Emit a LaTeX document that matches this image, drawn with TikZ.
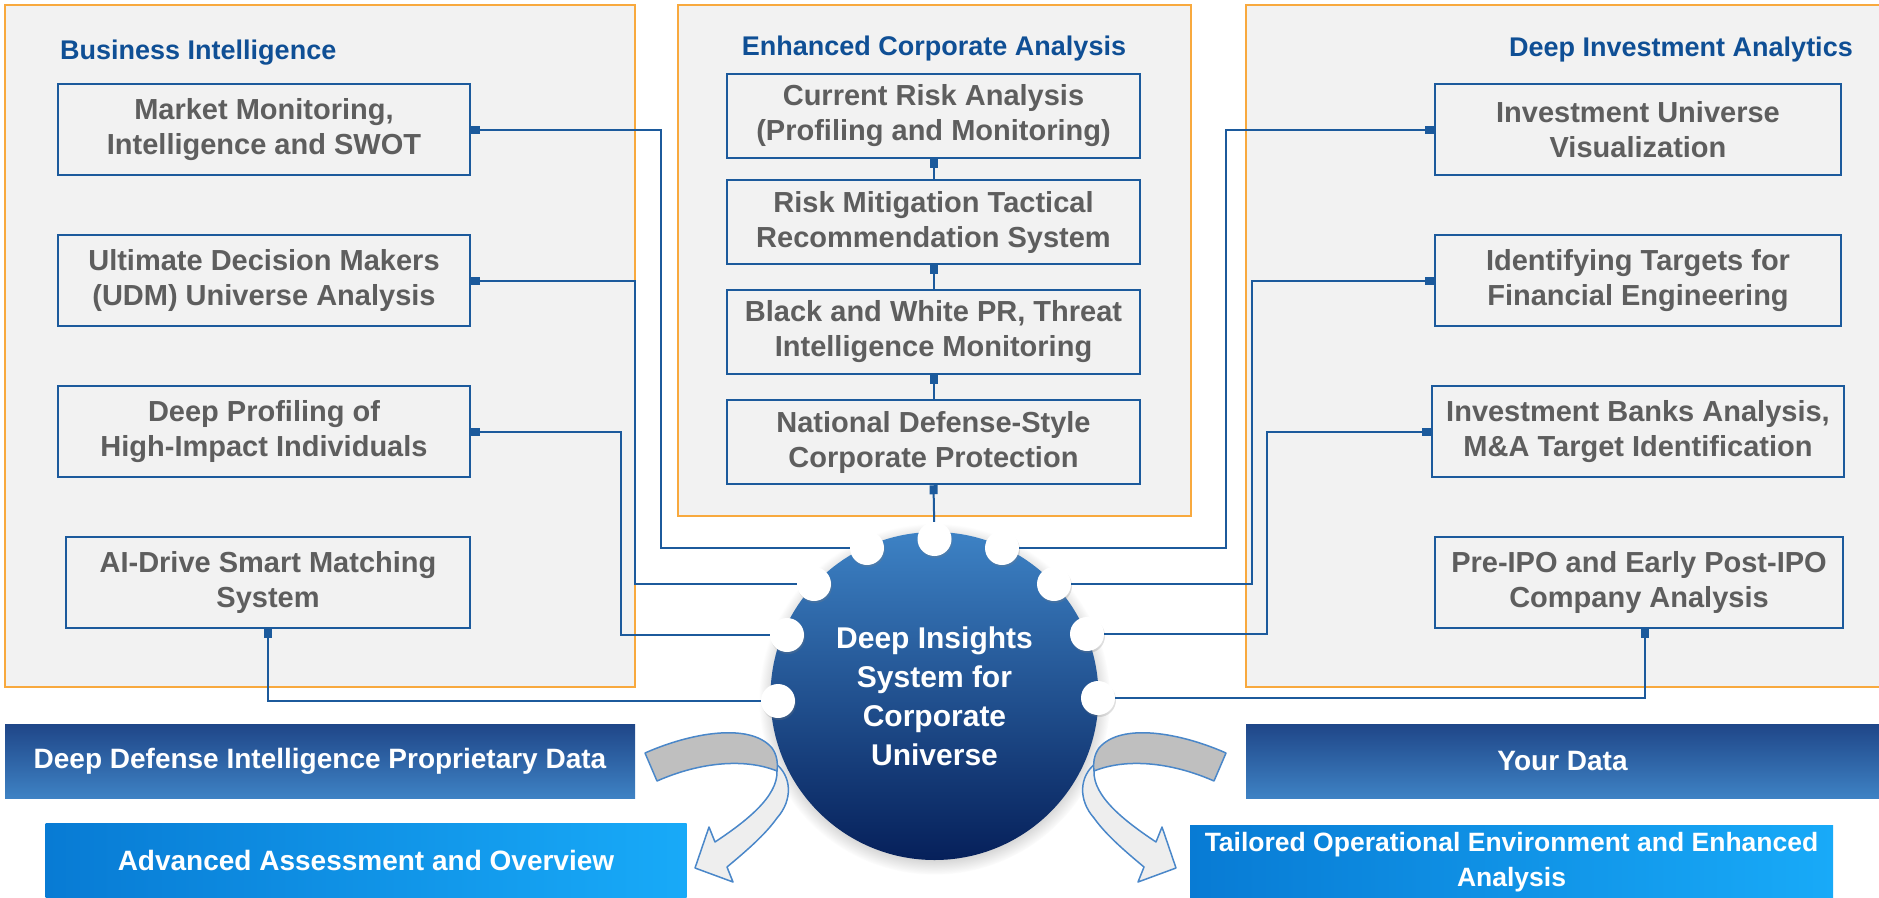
\documentclass[tikz,border=0pt]{standalone}
\usepackage{fontspec}
\setmainfont{Liberation Sans}
\usetikzlibrary{positioning, shadows, arrows.meta, calc}
\definecolor{panelgray}{HTML}{F2F2F2}
\definecolor{panelorange}{HTML}{F8A93E}
\definecolor{linkblue}{HTML}{1C5A9C}
\definecolor{titleblue}{HTML}{0F4F95}
\definecolor{textgray}{HTML}{5E5E5E}
\definecolor{hubtop}{HTML}{3D82C5}
\definecolor{hubbottom}{HTML}{06205A}
\definecolor{datatop}{HTML}{1F4688}
\definecolor{databottom}{HTML}{3E82C4}
\definecolor{outleft}{HTML}{087BD4}
\definecolor{outright}{HTML}{18AAF8}
\definecolor{arrowdark}{HTML}{BFBFBF}
\definecolor{arrowlight}{HTML}{EEEEEE}
\definecolor{arrowline}{HTML}{4A87C9}
\tikzset{
	panelbox/.style={
			draw=panelorange,
			fill=panelgray,
			line width=2pt
		},
	titlenode/.style={
			text=titleblue,
			font=\fontsize{27}{33}\selectfont\bfseries,
			inner sep=0pt
		},
	topicnode/.style={
			draw=linkblue,
			line width=2.5pt,
			fill=panelgray,
			text=textgray,
			font=\fontsize{29}{35}\selectfont\bfseries,
			align=center,
			minimum height=91pt,
			inner sep=0pt
		},
	hubnode/.style={
			circle,
			minimum size=328pt,
			inner sep=0pt,
			top color=hubtop,
			bottom color=hubbottom,
			text=white,
			font=\fontsize{30}{39}\selectfont\bfseries,
			align=center,
			circular drop shadow={shadow xshift=0pt, shadow yshift=-3pt, shadow scale=1.07, opacity=0.55}
		},
	dotnode/.style={
			circle,
			fill=white,
			minimum size=34pt,
			inner sep=0pt,
			drop shadow={shadow xshift=1pt, shadow yshift=-2pt, opacity=0.25}
		},
	datanode/.style={
			top color=datatop,
			bottom color=databottom,
			text=white,
			font=\fontsize{28}{35}\selectfont\bfseries,
			minimum height=74pt,
			inner sep=0pt,
			align=center
		},
	outnode/.style={
			left color=outleft,
			right color=outright,
			text=white,
			font=\fontsize{28}{35}\selectfont\bfseries,
			minimum height=74pt,
			inner sep=0pt,
			align=center
		},
	link/.style={
			draw=linkblue,
			line width=2pt,
			arrows={Square[length=9pt,width=8pt]-}
		},
	foldpart/.style={
			draw=arrowline,
			line width=1.5pt,
			line join=round
		}
}
\newcommand{\foldarrow}{%
  \path[foldpart, fill=arrowlight] (775,763) .. controls (792,776) and (793,800) .. (777,818)
    .. controls (765,835) and (745,852) .. (727,867) -- (733,882) -- (695,868) -- (709,827)
    -- (715,842) .. controls (745,822) and (778,797) .. (777,771) -- cycle;
  \path[foldpart, fill=arrowdark] (645,753) .. controls (690,733) and (750,722) .. (772,748)
    .. controls (777,755) and (778,763) .. (777,771)
    .. controls (745,758) and (700,762) .. (657,781) -- cycle;
}

\begin{document}
\begin{tikzpicture}[x=1pt, y=-1pt]
\useasboundingbox (0,0) rectangle (1879,897);

% panels
\draw[panelbox] (5,5) rectangle (635,687);
\draw[panelbox] (678,5) rectangle (1191,516);
\draw[panelbox] (1246,5) rectangle (1900,687);

\node[titlenode, anchor=west] (tBI) at (60,53) {Business Intelligence};
\node[titlenode] (tECA) at (934,49) {Enhanced Corporate Analysis};
\node[titlenode, anchor=east] (tDIA) at (1853,50) {Deep Investment Analytics};

% left column
\node[topicnode, minimum width=412pt] (bi1) at (264,129.5) {Market Monitoring,\\Intelligence and SWOT};
\node[topicnode, minimum width=412pt] (bi2) at (264,280.5) {Ultimate Decision Makers\\(UDM) Universe Analysis};
\node[topicnode, minimum width=412pt] (bi3) at (264,431.5) {Deep Profiling of\\High-Impact Individuals};
\node[topicnode, minimum width=404pt] (bi4) at (268,582.5) {AI-Drive Smart Matching\\System};

% middle column
\node[topicnode, minimum width=413pt, minimum height=84pt] (eca1) at (933.5,116) {Current Risk Analysis\\(Profiling and Monitoring)};
\node[topicnode, minimum width=413pt, minimum height=84pt] (eca2) at (933.5,222) {Risk Mitigation Tactical\\Recommendation System};
\node[topicnode, minimum width=413pt, minimum height=84pt] (eca3) at (933.5,332) {Black and White PR, Threat\\Intelligence Monitoring};
\node[topicnode, minimum width=413pt, minimum height=84pt] (eca4) at (933.5,442) {National Defense-Style\\Corporate Protection};

% right column
\node[topicnode, minimum width=406pt] (dia1) at (1638,129.5) {Investment Universe\\Visualization};
\node[topicnode, minimum width=406pt] (dia2) at (1638,280.5) {Identifying Targets for\\Financial Engineering};
\node[topicnode, minimum width=412pt] (dia3) at (1638,431.5) {Investment Banks Analysis,\\M\&A Target Identification};
\node[topicnode, minimum width=408pt] (dia4) at (1639,582.5) {Pre-IPO and Early Post-IPO\\Company Analysis};

% hub and its ports
\node[hubnode] (hub) at (934.5,696) {Deep Insights\\System for\\Corporate\\Universe};
\node[dotnode] (dT) at (934.5,539) {};
\node[dotnode] (dL1) at (867,548) {};
\node[dotnode] (dL2) at (814,584) {};
\node[dotnode] (dL3) at (787,635) {};
\node[dotnode] (dL4) at (778,701) {};
\node[dotnode] (dR1) at (1002,548) {};
\node[dotnode] (dR2) at (1054,584) {};
\node[dotnode] (dR3) at (1087,634) {};
\node[dotnode] (dR4) at (1098,698) {};

% links
\draw[link] (eca1.south) -- (eca2.north);
\draw[link] (eca2.south) -- (eca3.north);
\draw[link] (eca3.south) -- (eca4.north);
\draw[link] (eca4.south) -- (dT);

\draw[link] (bi1.east) -- ++(190,0) |- (dL1);
\draw[link] (bi2.east) -- ++(164,0) |- (dL2);
\draw[link] (bi3.east) -- ++(150,0) |- (dL3);
\draw[link] (bi4.south) |- (dL4);

\draw[link] (dia1.west) -- ++(-208,0) |- (dR1);
\draw[link] (dia2.west) -- ++(-182,0) |- (dR2);
\draw[link] (dia3.west) -- ++(-164,0) |- (dR3);
\draw[link] ([xshift=6pt]dia4.south) |- (dR4);

% data banners
\node[datanode, minimum width=630pt] (ownData) at (320,761) {Deep Defense Intelligence Proprietary Data};
\node[datanode, minimum width=633pt] (yourData) at (1562.5,761) {Your Data};
\node[outnode, minimum width=641pt] (outL) at (366,860) {Advanced Assessment and Overview};
\node[outnode, minimum width=643pt, font=\fontsize{26.5}{35}\selectfont\bfseries] (outR) at (1511.5,862) {Tailored Operational Environment and Enhanced\\Analysis};

% folded arrows
\foldarrow
\begin{scope}[xshift=1871pt, xscale=-1]
\foldarrow
\end{scope}

\end{tikzpicture}
\end{document}
